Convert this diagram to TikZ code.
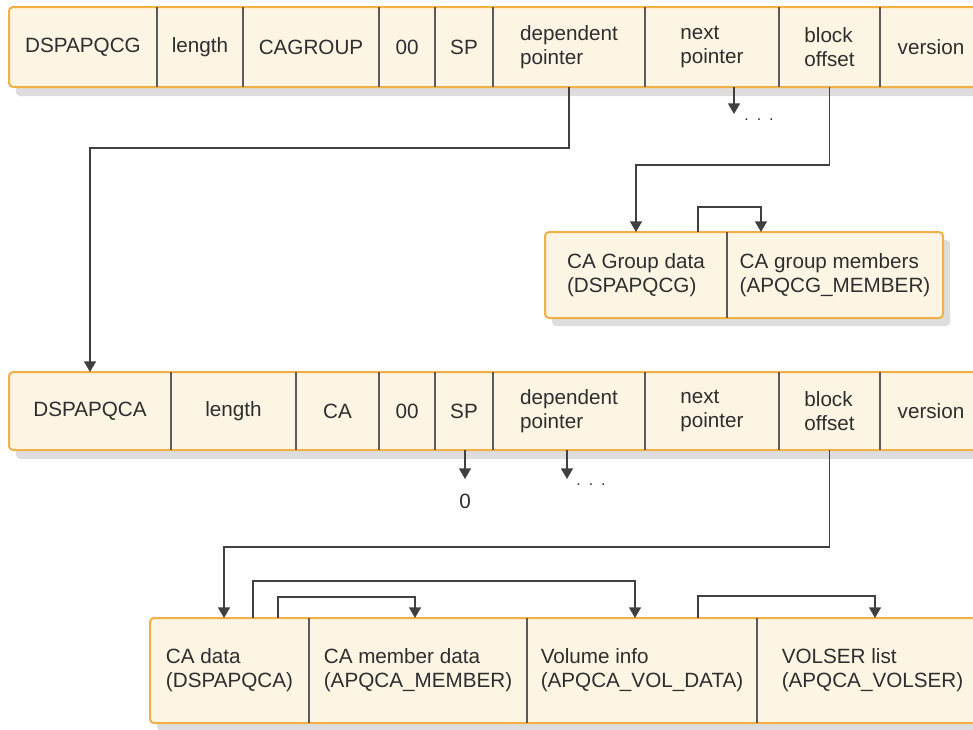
\documentclass[tikz,border=0pt]{standalone}
\usepackage{fontspec}
\setmainfont{Liberation Sans}
\usetikzlibrary{arrows.meta,fit}
\definecolor{cream}{HTML}{FDF5E4}
\definecolor{orangeb}{HTML}{F2B047}
\definecolor{divc}{HTML}{5A5A5A}
\definecolor{linec}{HTML}{404040}
\definecolor{shadowc}{HTML}{DDDDDD}
\definecolor{txt}{HTML}{2E2E2E}
\begin{document}
\begin{tikzpicture}[x=0.75pt,y=-0.75pt,
  frame/.style={draw=orangeb,fill=cream,line width=1.5pt,rounded corners=3pt},
  shade/.style={fill=shadowc,rounded corners=3pt},
  cell/.style={inner sep=0pt,outer sep=0pt},
  lbl/.style={inner sep=0pt,outer sep=0pt,anchor=center,align=left,font=\fontsize{15.5}{18}\selectfont,text=txt},
  dots/.style={inner sep=0pt,font=\fontsize{12}{14}\selectfont,text=txt},
  divider/.style={draw=divc,line width=1.2pt},
  arr/.style={draw=linec,line width=1pt,-{Triangle[width=9pt,length=8pt]}},
]
\useasboundingbox (0,0) rectangle (973,729);
\clip (0,0) rectangle (973,729);

% ---------- Row 1 ----------
\fill[shade] (16,15) rectangle (990,96);
\draw[frame] (9,7) rectangle (982,87);
\node[cell,fit={(9,7)(157,87)}] (a1) {};
\node[cell,fit={(157,7)(243,87)}] (a2) {};
\node[cell,fit={(243,7)(379,87)}] (a3) {};
\node[cell,fit={(379,7)(435,87)}] (a4) {};
\node[cell,fit={(435,7)(493,87)}] (a5) {};
\node[cell,fit={(493,7)(645,87)}] (a6) {};
\node[cell,fit={(645,7)(779,87)}] (a7) {};
\node[cell,fit={(779,7)(880,87)}] (a8) {};
\node[cell,fit={(880,7)(982,87)}] (a9) {};
\foreach \n in {a1,a2,a3,a4,a5,a6,a7,a8}
  \draw[divider] (\n.north east) -- (\n.south east);
\node[lbl] (a1t) at (a1) {DSPAPQCG};
\node[lbl] (a2t) at (a2) {length};
\node[lbl] (a3t) at (a3) {CAGROUP};
\node[lbl] (a4t) at (a4) {00};
\node[lbl] (a5t) at (a5) {SP};
\node[lbl] (a6t) at (a6) {dependent\\pointer};
\node[lbl] (a7t) at (a7) {next\\pointer};
\node[lbl] (a8t) at (a8) {block\\offset};
\node[lbl] (a9t) at (a9) {version};

% ---------- Group box ----------
\fill[shade] (552,240) rectangle (950,326);
\draw[frame] (545,232) rectangle (943,318);
\node[cell,fit={(545,232)(727,318)}] (g1) {};
\node[cell,fit={(727,232)(943,318)}] (g2) {};
\draw[divider] (g1.north east) -- (g1.south east);
\node[lbl] (g1t) at (g1) {CA Group data\\(DSPAPQCG)};
\node[lbl] (g2t) at (g2) {CA group members\\(APQCG\_MEMBER)};

% ---------- Row 2 ----------
\fill[shade] (16,380) rectangle (990,459);
\draw[frame] (9,372) rectangle (982,450);
\node[cell,fit={(9,372)(171,450)}] (b1) {};
\node[cell,fit={(171,372)(296,450)}] (b2) {};
\node[cell,fit={(296,372)(379,450)}] (b3) {};
\node[cell,fit={(379,372)(435,450)}] (b4) {};
\node[cell,fit={(435,372)(493,450)}] (b5) {};
\node[cell,fit={(493,372)(645,450)}] (b6) {};
\node[cell,fit={(645,372)(779,450)}] (b7) {};
\node[cell,fit={(779,372)(880,450)}] (b8) {};
\node[cell,fit={(880,372)(982,450)}] (b9) {};
\foreach \n in {b1,b2,b3,b4,b5,b6,b7,b8}
  \draw[divider] (\n.north east) -- (\n.south east);
\node[lbl] (b1t) at (b1) {DSPAPQCA};
\node[lbl] (b2t) at (b2) {length};
\node[lbl] (b3t) at (b3) {CA};
\node[lbl] (b4t) at (b4) {00};
\node[lbl] (b5t) at (b5) {SP};
\node[lbl] (b6t) at (b6) {dependent\\pointer};
\node[lbl] (b7t) at (b7) {next\\pointer};
\node[lbl] (b8t) at (b8) {block\\offset};
\node[lbl] (b9t) at (b9) {version};

% ---------- Bottom box ----------
\fill[shade] (157,626) rectangle (995,731);
\draw[frame] (150,618) rectangle (988,723);
\node[cell,fit={(150,618)(309,723)}] (c1) {};
\node[cell,fit={(309,618)(527,723)}] (c2) {};
\node[cell,fit={(527,618)(757,723)}] (c3) {};
\node[cell,fit={(757,618)(988,723)}] (c4) {};
\foreach \n in {c1,c2,c3}
  \draw[divider] (\n.north east) -- (\n.south east);
\node[lbl] (c1t) at (c1) {CA data\\(DSPAPQCA)};
\node[lbl] (c2t) at (c2) {CA member data\\(APQCA\_MEMBER)};
\node[lbl] (c3t) at (c3) {Volume info\\(APQCA\_VOL\_DATA)};
\node[lbl] (c4t) at (c4) {VOLSER list\\(APQCA\_VOLSER)};

% ---------- Connectors ----------
\draw[arr] (a6.south) -- ++(0,61) -| (b1.north);
\coordinate (n1) at (734,114);
\draw[arr] (a7.south -| n1) -- (n1);
\node[dots] (dt1) at (759,120) {.\,\,\,.\,\,\,.};
\draw[arr] (a8.south) -- ++(0,78) -| (g1.north);
\coordinate (gl1) at (698,207);
\coordinate (gl2) at (761,207);
\draw[arr] (g1.north -| gl1) -- (gl1) -- (gl2) -- (g2.north -| gl2);

\coordinate (s0) at (465,479);
\draw[arr] (b5.south -| s0) -- (s0);
\node[lbl] (zero) at (465,501) {0};
\coordinate (d2) at (567,479);
\draw[arr] (b6.south -| d2) -- (d2);
\node[dots] (dt2) at (591,485) {.\,\,\,.\,\,\,.};
\coordinate (bt) at (224,547);
\draw[arr] (b8.south) |- (bt) -- (c1.north -| bt);

\coordinate (l1a) at (253,581);
\coordinate (l1b) at (635,581);
\draw[arr] (c1.north -| l1a) -- (l1a) -- (l1b) -- (c3.north -| l1b);
\coordinate (l2a) at (278,597);
\coordinate (l2b) at (415,597);
\draw[arr] (c1.north -| l2a) -- (l2a) -- (l2b) -- (c2.north -| l2b);
\coordinate (l3a) at (698,596);
\coordinate (l3b) at (875,596);
\draw[arr] (c3.north -| l3a) -- (l3a) -- (l3b) -- (c4.north -| l3b);
\end{tikzpicture}
\end{document}
